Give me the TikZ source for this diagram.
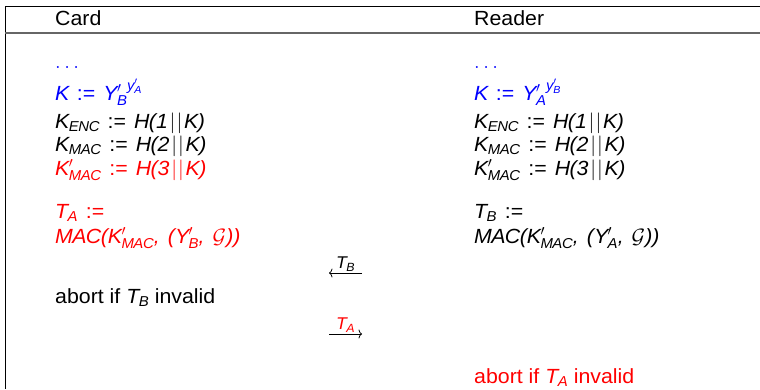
\documentclass[tikz,border=0pt]{standalone}
\usepackage{fontspec}
\setmainfont{Liberation Sans}[FakeStretch=1.04]
\usetikzlibrary{arrows.meta}
\newcommand\mi[1]{\mathit{#1}}
\newcommand\lp{\mbox{\itshape(}}
\newcommand\rp{\mbox{\itshape)}}
\newcommand\cm{\mbox{\itshape,}\mkern7mu}
\newcommand\dg[1]{\mbox{\itshape #1}}
\newcommand\defeq{\mathrel{\mkern2mu\mbox{:=}\mkern2mu}}
\newcommand\cc{\mkern1.5mu|\mkern1mu|\mkern1.5mu}
\begin{document}
\begin{tikzpicture}[x=1pt,y=-1pt,
  txt/.style={anchor=base west,inner sep=0pt,font=\fontsize{20.5}{24}\selectfont},
  lbl/.style={inner sep=1.5pt,font=\fontsize{17}{20}\selectfont},
  msg/.style={-{To[length=3.5pt,width=9pt]},line width=0.8pt}]
\useasboundingbox (0,0) rectangle (760,389);
% frame
\coordinate (tl) at (5,6);
\coordinate (tr) at (760,6);
\coordinate (hl) at (5,33);
\coordinate (hr) at (760,33);
\coordinate (bl) at (5,389);
\draw[line width=1pt] (tr) -- (tl) -- (bl);
\draw[line width=1.3pt,black!60] (hl) -- (hr);
% headers
\node[txt] (card) at (55,25) {Card};
\node[txt] (reader) at (474,25) {Reader};
% card column
\node[txt,blue] (c0) at (55,68) {$\ldots$};
\node[txt,blue] (c1) at (55,100) {$\mi{K} \defeq {\mi{Y}'_{\mi{B}}}^{\mi{y}'_{\mi{A}}}$};
\node[txt] (c2) at (55,128) {$\mi{K}_{\mi{ENC}} \defeq \mi{H}\lp\dg{1}\cc\mi{K}\rp$};
\node[txt] (c3) at (55,151) {$\mi{K}_{\mi{MAC}} \defeq \mi{H}\lp\dg{2}\cc\mi{K}\rp$};
\node[txt,red] (c4) at (55,175) {$\mi{K}'_{\mi{MAC}} \defeq \mi{H}\lp\dg{3}\cc\mi{K}\rp$};
\node[txt,red] (c5) at (55,218) {$\mi{T}_{\mi{A}} \defeq$};
\node[txt,red] (c6) at (55,243) {$\mi{MAC}\lp\mi{K}'_{\mi{MAC}}\cm\lp\mi{Y}'_{\mi{B}}\cm\mathcal{G}\rp\rp$};
\node[txt] (c7) at (55,303) {abort if $\mi{T}_{\mi{B}}$ invalid};
% reader column
\node[txt,blue] (r0) at (474,68) {$\ldots$};
\node[txt,blue] (r1) at (474,100) {$\mi{K} \defeq {\mi{Y}'_{\mi{A}}}^{\mi{y}'_{\mi{B}}}$};
\node[txt] (r2) at (474,128) {$\mi{K}_{\mi{ENC}} \defeq \mi{H}\lp\dg{1}\cc\mi{K}\rp$};
\node[txt] (r3) at (474,151) {$\mi{K}_{\mi{MAC}} \defeq \mi{H}\lp\dg{2}\cc\mi{K}\rp$};
\node[txt] (r4) at (474,175) {$\mi{K}'_{\mi{MAC}} \defeq \mi{H}\lp\dg{3}\cc\mi{K}\rp$};
\node[txt] (r5) at (474,218) {$\mi{T}_{\mi{B}} \defeq$};
\node[txt] (r6) at (474,243) {$\mi{MAC}\lp\mi{K}'_{\mi{MAC}}\cm\lp\mi{Y}'_{\mi{A}}\cm\mathcal{G}\rp\rp$};
\node[txt,red] (r7) at (474,383) {abort if $\mi{T}_{\mi{A}}$ invalid};
% messages
\coordinate (m1a) at (362,273);
\coordinate (m1b) at (329,273);
\coordinate (m2a) at (329,334);
\coordinate (m2b) at (362,334);
\draw[msg] (m1a) -- node[lbl,above] (l1) {$\mi{T}_{\mi{B}}$} (m1b);
\draw[msg] (m2a) -- node[lbl,above,red] (l2) {$\mi{T}_{\mi{A}}$} (m2b);
\end{tikzpicture}
\end{document}
